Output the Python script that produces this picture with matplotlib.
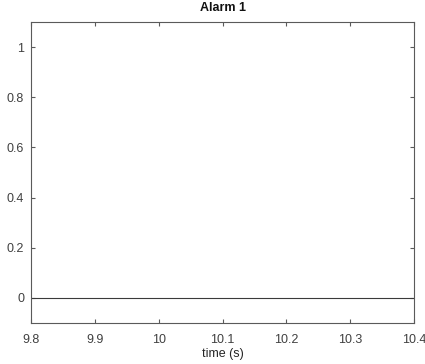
import matplotlib
matplotlib.use("Agg")
import matplotlib.pyplot as plt

time = [9.8, 10.4]
alarm = [0, 0]
xticks = [9.8, 9.9, 10.0, 10.1, 10.2, 10.3, 10.4]
xticklabels = ["9.8", "9.9", "10", "10.1", "10.2", "10.3", "10.4"]
yticks = [0, 0.2, 0.4, 0.6, 0.8, 1]
yticklabels = ["0", "0.2", "0.4", "0.6", "0.8", "1"]

plt.rcParams['font.family'] = ['Liberation Sans', 'DejaVu Sans']
fig = plt.figure(figsize=(4.25, 3.64), dpi=100)
ax = fig.add_axes([31/425, 1-323/364, (414-31)/425, (323-22)/364])
ax.plot(time, alarm, color='#3a3a3a', linewidth=0.8)
ax.set_xlim(9.8, 10.4)
ax.set_ylim(-0.1, 1.1)
ax.set_xticks(xticks)
ax.set_xticklabels(xticklabels)
ax.set_yticks(yticks)
ax.set_yticklabels(yticklabels)
axc = '#5a5a5a'
for s in ax.spines.values():
    s.set_color(axc)
    s.set_linewidth(0.8)
ax.tick_params(direction='in', top=True, right=True, length=3, width=0.8,
               color=axc, labelcolor='#404040', labelsize=9)
ax.tick_params(axis='x', pad=8)
ax.tick_params(axis='y', pad=5)
ax.set_xlabel('time (s)', fontsize=9, color='#262626', labelpad=1)
ax.set_title('Alarm 1', fontsize=9, fontweight='bold', color='#111111', pad=8)
fig.savefig('out.png', dpi=100)
